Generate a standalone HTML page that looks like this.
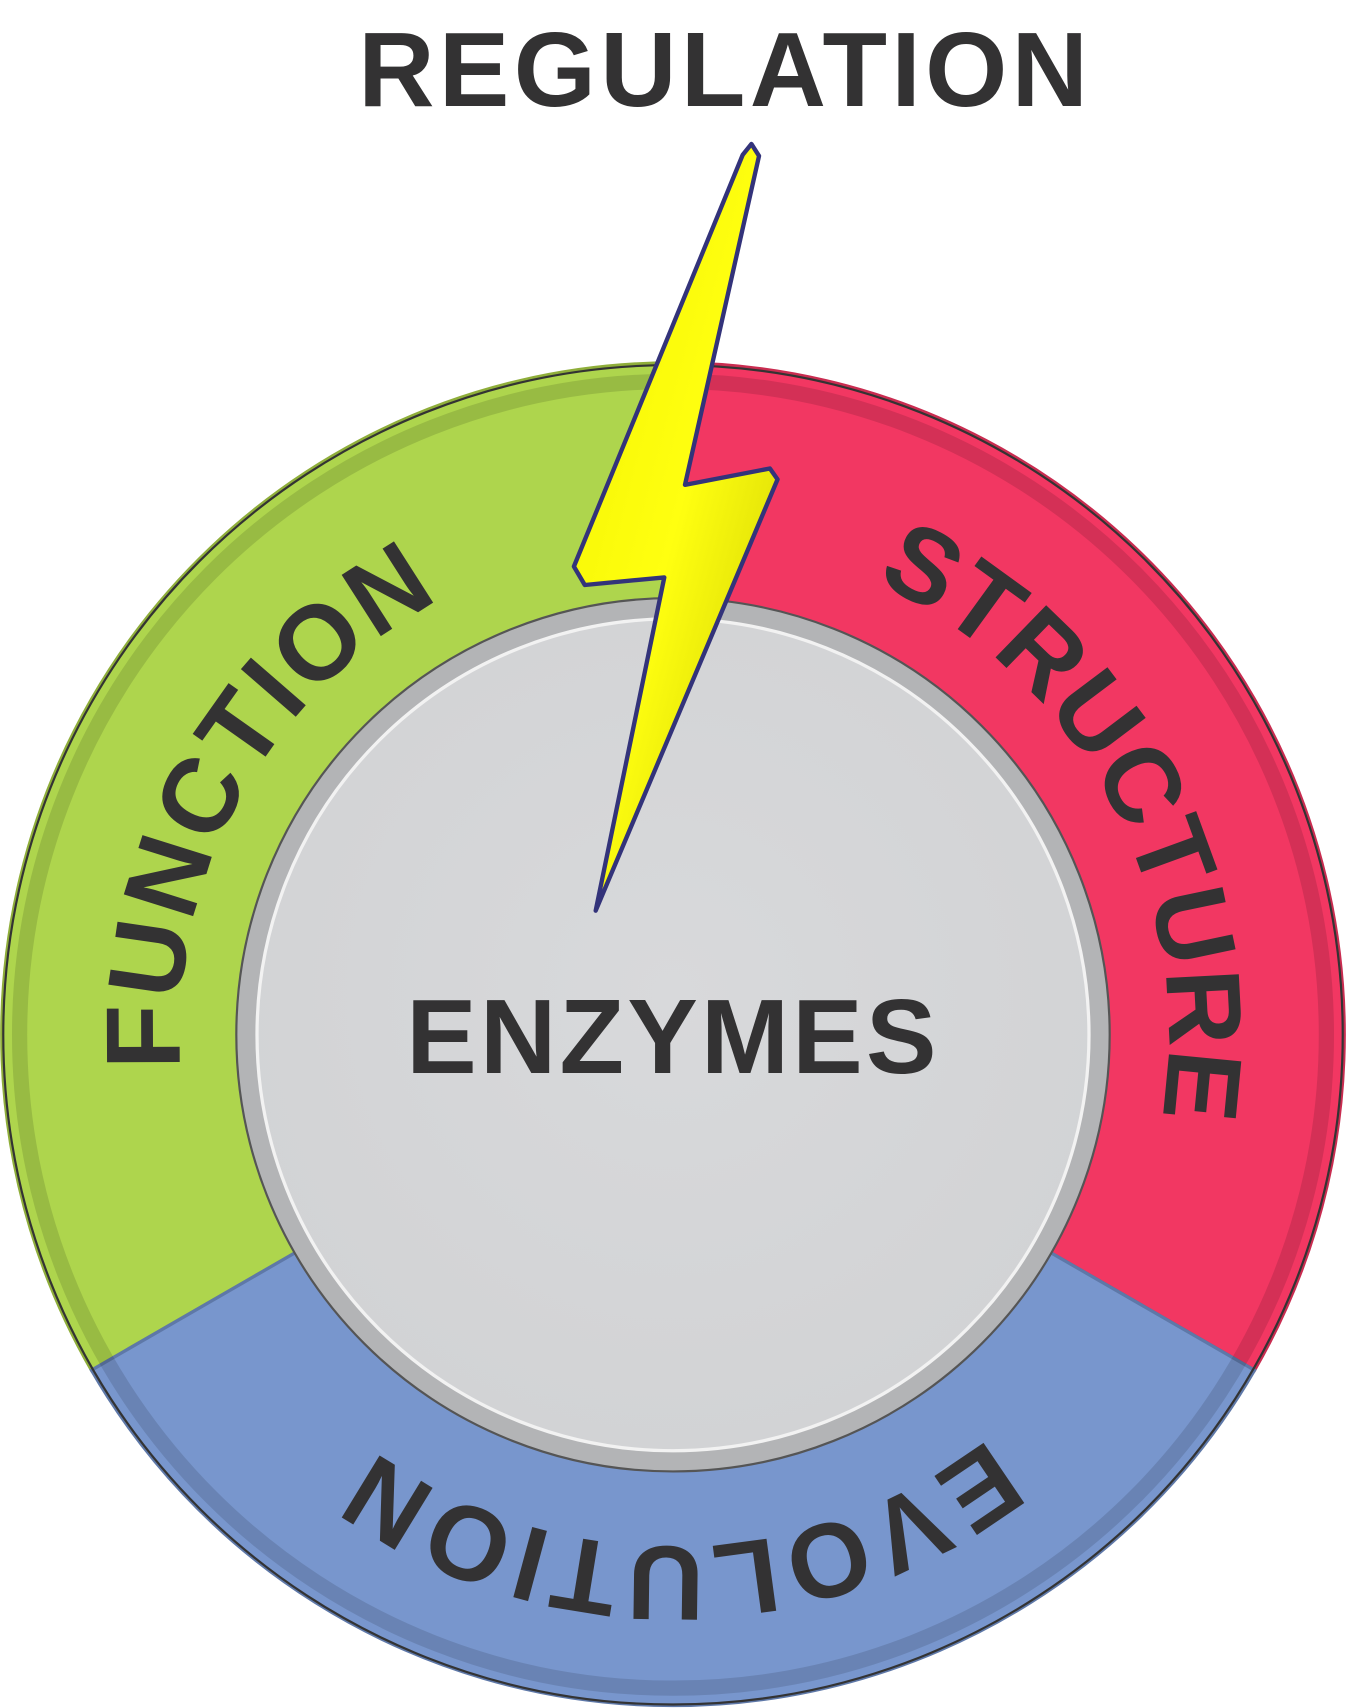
<!DOCTYPE html>
<html><head><meta charset="utf-8"><style>
html,body{margin:0;padding:0;background:#fff;}
svg{display:block;}
text{font-family:"Liberation Sans",sans-serif;font-weight:bold;fill:#333233;}
</style></head><body>
<svg width="1346" height="1708" viewBox="0 0 1236 1568" xmlns="http://www.w3.org/2000/svg">
<defs>
<linearGradient id="bolt" x1="0" y1="0" x2="1" y2="1">
<stop offset="0" stop-color="#f2f200"/><stop offset="0.5" stop-color="#ffff10"/><stop offset="1" stop-color="#c8c800"/>
</linearGradient>
<radialGradient id="inner" cx="0.5" cy="0.45" r="0.55">
<stop offset="0" stop-color="#d8d9db"/><stop offset="1" stop-color="#d2d3d5"/>
</radialGradient>
<path id="pF" d="M618,1403 A453,453 0 1 1 618,497 A453,453 0 1 1 618,1403"/>
<path id="pS" d="M618,1405 A455,455 0 1 1 618,495 A455,455 0 1 1 618,1405"/>
<path id="pE" d="M618,1420 A470,470 0 1 1 618,480 A470,470 0 1 1 618,1420 A470,470 0 1 1 618,480 A470,470 0 1 1 618,1420"/>
</defs>
<path d="M618,950 L84,1258 A617,617 0 0 1 618,333 Z" fill="#aed54d" stroke="#8fae3a" stroke-width="3"/>
<path d="M618,950 L618,333 A617,617 0 0 1 1152,1258 Z" fill="#f23762" stroke="#c92c50" stroke-width="3"/>
<path d="M618,950 L1152,1258 A617,617 0 0 1 84,1258 Z" fill="#7896cd" stroke="#5e78a8" stroke-width="3"/>
<circle cx="618" cy="950" r="615" fill="none" stroke="#333" stroke-width="2"/>
<circle cx="618" cy="950" r="600" fill="none" stroke="rgba(0,0,0,0.12)" stroke-width="14"/>
<circle cx="618" cy="950" r="401" fill="#b3b4b6" stroke="#555" stroke-width="2"/>
<circle cx="618" cy="950" r="382" fill="url(#inner)" stroke="#f2f2f2" stroke-width="3"/>
<text font-size="97"><textPath href="#pF" startOffset="680" textLength="520" lengthAdjust="spacing">FUNCTION</textPath></text>
<text font-size="97"><textPath href="#pS" startOffset="1620" textLength="600" lengthAdjust="spacing">STRUCTURE</textPath></text>
<text font-size="97"><textPath href="#pE" startOffset="2641" textLength="605" lengthAdjust="spacing">EVOLUTION</textPath></text>
<text x="618" y="985" font-size="97" text-anchor="middle" letter-spacing="3">ENZYMES</text>
<text x="666" y="97" font-size="97" text-anchor="middle" letter-spacing="4">REGULATION</text>
<polygon points="682,142 527,520 537,537 610,530 547,836 714,440 707,430 629,445 697,143 690,132" fill="url(#bolt)" stroke="#33337a" stroke-width="4" stroke-linejoin="round"/>
</svg>
</body></html>
